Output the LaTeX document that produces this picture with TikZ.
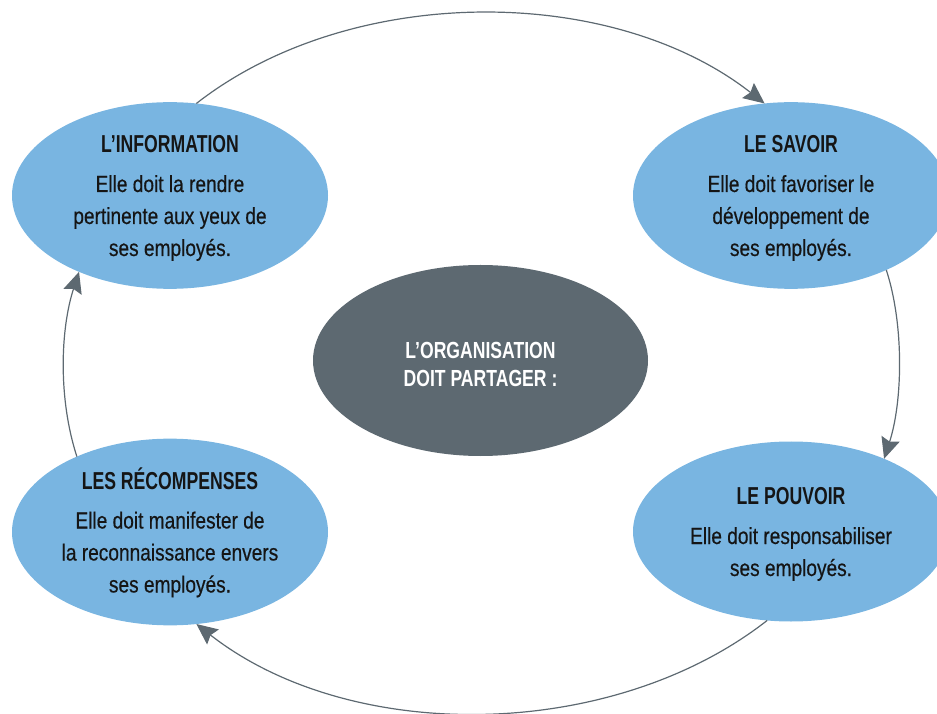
\documentclass[tikz,border=0pt]{standalone}
\usepackage{fontspec}
\setmainfont{Liberation Sans}
\newfontfamily\bodyfnt{Liberation Sans}[FakeStretch=0.82,FakeBold=0.45]
\newfontfamily\headfnt{Liberation Sans}[FakeStretch=0.72]
\newfontfamily\centfnt{Liberation Sans}[FakeStretch=0.755]
\usetikzlibrary{shapes.geometric,arrows.meta}
\definecolor{bubblue}{HTML}{79B5E1}
\definecolor{slate}{HTML}{5D6971}
\definecolor{ink}{HTML}{151515}
\newcommand\topstrut[1]{\rule{0pt}{#1}}
\newcommand\botstrut[1]{\rule[-#1]{0pt}{#1}}
\newcommand\headline[1]{{\headfnt\bfseries\fontsize{24.5}{32}\selectfont\topstrut{23pt}#1}}
\begin{document}
\begin{tikzpicture}[x=1pt,y=1pt,
  bubble/.style={ellipse, fill=bubblue, inner sep=0pt, outer sep=0pt,
    minimum width=316pt, minimum height=180pt, align=center, text=ink,
    font=\bodyfnt\fontsize{23.3}{32}\selectfont},
  hub/.style={ellipse, fill=slate, inner sep=0pt, outer sep=0pt,
    minimum width=335pt, minimum height=191pt, align=center, text=white,
    font=\centfnt\bfseries\fontsize{23.3}{28}\selectfont},
  flow/.style={draw=slate, line width=1.2pt,
    -{Stealth[length=21pt,width=19pt,inset=3pt]}}]
\clip (0,0) rectangle (937,713);

\node[bubble] (info) at (170,517.5)
  {\headline{L’INFORMATION}\\[7.5pt]Elle doit la rendre\\pertinente aux yeux de\\ses employés.\botstrut{5.5pt}};
\node[bubble] (savoir) at (791,517.5)
  {\headline{LE SAVOIR}\\[7.5pt]Elle doit favoriser le\\développement de\\ses employés.\botstrut{5.5pt}};
\node[bubble] (recomp) at (170,181)
  {\headline{LES RÉCOMPENSES}\\[7.5pt]Elle doit manifester de\\la reconnaissance envers\\ses employés.\botstrut{5.5pt}};
\node[bubble] (pouvoir) at (791,181.5)
  {\headline{LE POUVOIR}\\[7.5pt]Elle doit responsabiliser\\ses employés.\botstrut{5.5pt}};
\node[hub] (hub) at (480.5,352.5)
  {\topstrut{28pt}L’ORGANISATION\\DOIT PARTAGER :\botstrut{3pt}};

\draw[flow] (info.74) to[out=38,in=142,looseness=0.88] (savoir.106);
\draw[flow] (savoir.-38) to[out=-72,in=72,looseness=0.8] (pouvoir.38);
\draw[flow] (pouvoir.-105) to[out=218,in=-38,looseness=0.88] (recomp.-74);
\draw[flow] (recomp.141) to[out=108,in=-108,looseness=0.84] (info.-140);
\end{tikzpicture}
\end{document}
